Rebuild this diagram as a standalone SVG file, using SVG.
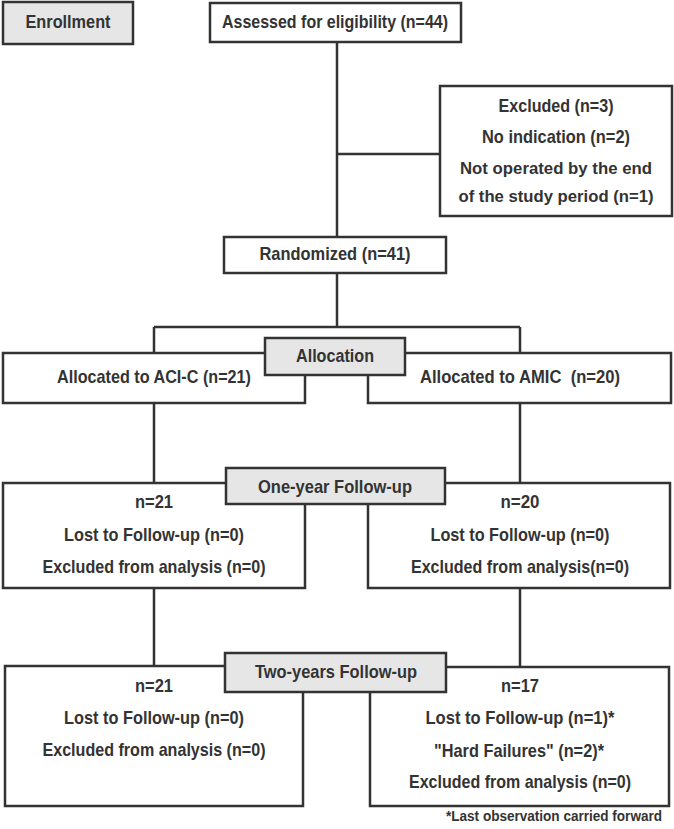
<svg xmlns="http://www.w3.org/2000/svg" width="674" height="829" viewBox="0 0 674 829">
<style>
.box{fill:#ffffff;stroke:#333333;stroke-width:2.5}
.lab{fill:#e6e6e6;stroke:#333333;stroke-width:2.5}
.t{font-family:"Liberation Sans Narrow","Liberation Sans",Arial,sans-serif;font-weight:bold;font-size:19px;fill:#333333;text-anchor:middle}
.s{font-size:17px}
.fn{font-size:14px}
.c{fill:none;stroke:#333333;stroke-width:2.5}
</style>
<rect width="674" height="829" fill="#ffffff"/>
<g id="connectors">
<path class="c" d="M337 42V237M337 154H440M337 273V327M154 327H520M154 327V353M520 327V353M154 403V483M520 403V483M154 588V666M520 588V667"/>
</g>
<g id="enrollment">
<rect class="lab" x="3" y="2" width="130" height="42"/>
<text class="t" x="68" y="28" textLength="85" lengthAdjust="spacingAndGlyphs">Enrollment</text>
</g>
<g id="assessed">
<rect class="box" x="210" y="3" width="251" height="39"/>
<text class="t" x="335" y="28" textLength="226" lengthAdjust="spacingAndGlyphs">Assessed for eligibility (n=44)</text>
</g>
<g id="excluded">
<rect class="box" x="440" y="86" width="232" height="130"/>
<text class="t" x="556" y="112" textLength="115" lengthAdjust="spacingAndGlyphs">Excluded (n=3)</text>
<text class="t" x="556" y="143" textLength="148" lengthAdjust="spacingAndGlyphs">No indication (n=2)</text>
<text class="t s" x="556" y="174" textLength="192" lengthAdjust="spacingAndGlyphs">Not operated by the end</text>
<text class="t s" x="556" y="202" textLength="195" lengthAdjust="spacingAndGlyphs">of the study period (n=1)</text>
</g>
<g id="randomized">
<rect class="box" x="224" y="237" width="222" height="36"/>
<text class="t" x="335" y="260" textLength="151" lengthAdjust="spacingAndGlyphs">Randomized (n=41)</text>
</g>
<g id="alloc-acic">
<rect class="box" x="3" y="353" width="302" height="50"/>
<text class="t" x="154" y="383" textLength="194" lengthAdjust="spacingAndGlyphs">Allocated to ACI-C (n=21)</text>
</g>
<g id="alloc-amic">
<rect class="box" x="368" y="353" width="303" height="50"/>
<text class="t" x="520" y="383" textLength="200" lengthAdjust="spacingAndGlyphs" xml:space="preserve">Allocated to AMIC  (n=20)</text>
</g>
<g id="allocation">
<rect class="lab" x="265" y="338" width="140" height="37"/>
<text class="t" x="335" y="362" textLength="78" lengthAdjust="spacingAndGlyphs">Allocation</text>
</g>
<g id="fu1-acic">
<rect class="box" x="3" y="483" width="302" height="105"/>
<text class="t" x="154" y="508" textLength="38" lengthAdjust="spacingAndGlyphs">n=21</text>
<text class="t" x="154" y="541" textLength="180" lengthAdjust="spacingAndGlyphs">Lost to Follow-up (n=0)</text>
<text class="t" x="154" y="573" textLength="223" lengthAdjust="spacingAndGlyphs">Excluded from analysis (n=0)</text>
</g>
<g id="fu1-amic">
<rect class="box" x="368" y="483" width="302" height="105"/>
<text class="t" x="520" y="508" textLength="39" lengthAdjust="spacingAndGlyphs">n=20</text>
<text class="t" x="520" y="541" textLength="179" lengthAdjust="spacingAndGlyphs">Lost to Follow-up (n=0)</text>
<text class="t" x="520" y="573" textLength="218" lengthAdjust="spacingAndGlyphs">Excluded from analysis(n=0)</text>
</g>
<g id="one-year">
<rect class="lab" x="226" y="468" width="219" height="36"/>
<text class="t" x="335" y="493" textLength="154" lengthAdjust="spacingAndGlyphs">One-year Follow-up</text>
</g>
<g id="fu2-acic">
<rect class="box" x="5" y="666" width="298" height="140"/>
<text class="t" x="154" y="692" textLength="38" lengthAdjust="spacingAndGlyphs">n=21</text>
<text class="t" x="154" y="724" textLength="180" lengthAdjust="spacingAndGlyphs">Lost to Follow-up (n=0)</text>
<text class="t" x="154" y="756" textLength="223" lengthAdjust="spacingAndGlyphs">Excluded from analysis (n=0)</text>
</g>
<g id="fu2-amic">
<rect class="box" x="370" y="667" width="299" height="139"/>
<text class="t" x="520" y="692" textLength="38" lengthAdjust="spacingAndGlyphs">n=17</text>
<text class="t" x="520" y="724" textLength="189" lengthAdjust="spacingAndGlyphs">Lost to Follow-up (n=1)*</text>
<text class="t" x="519" y="757" textLength="170" lengthAdjust="spacingAndGlyphs">"Hard Failures" (n=2)*</text>
<text class="t" x="520" y="788" textLength="222" lengthAdjust="spacingAndGlyphs">Excluded from analysis (n=0)</text>
</g>
<g id="two-years">
<rect class="lab" x="225" y="653" width="221" height="39"/>
<text class="t" x="336" y="678" textLength="162" lengthAdjust="spacingAndGlyphs">Two-years Follow-up</text>
</g>
<g id="footnote">
<text class="t fn" x="554" y="821" textLength="216" lengthAdjust="spacingAndGlyphs">*Last observation carried forward</text>
</g>
</svg>
